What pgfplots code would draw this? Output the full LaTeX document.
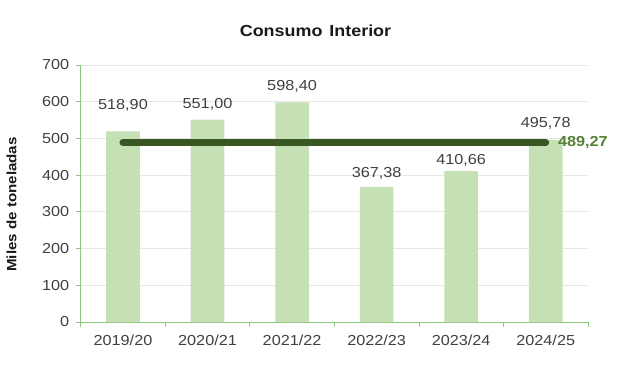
\documentclass[border=0pt]{standalone}
\usepackage{pgfplots}
\pgfplotsset{compat=1.18}
\usepackage{fontspec}
\setmainfont{Liberation Sans}[FakeStretch=1.12]
\definecolor{barfill}{HTML}{C5E0B4}
\definecolor{avgline}{HTML}{385723}
\definecolor{avglabel}{HTML}{548235}
\definecolor{axisgreen}{HTML}{8CC97E}
\definecolor{txtgray}{HTML}{404040}
\definecolor{gridgray}{HTML}{E6E6E6}
\newcommand{\tfont}{\fontsize{14.5}{17}\selectfont}
\begin{document}
\begin{tikzpicture}[x=1pt,y=1pt]
\useasboundingbox (0,0) rectangle (618,365);
\node[font=\fontsize{16}{19}\selectfont\bfseries, text=black!90] at (315.5,334) {Consumo\hspace{2pt} Interior};
\node[rotate=90, font=\fontsize{13.5}{16}\selectfont\bfseries, text=black!90] at (11.5,160.5) {Miles de toneladas};
\begin{axis}[
  at={(80.7pt,43pt)}, anchor=south west,
  scale only axis, width=507.3pt, height=257pt,
  xmin=-0.5, xmax=5.5, ymin=0, ymax=700,
  clip=false,
  axis x line*=bottom, axis y line*=left,
  axis line style={draw=axisgreen, line width=1pt, -},
  xtick={0,1,2,3,4,5},
  xticklabels={2019/20,2020/21,2021/22,2022/23,2023/24,2024/25},
  minor xtick={-0.5,0.5,1.5,2.5,3.5,4.5,5.5},
  ytick={0,100,...,700},
  tick align=outside,
  major tick length=5pt, minor tick length=4.5pt,
  xtick style={draw=none},
  ytick style={draw=axisgreen, line width=0.8pt},
  minor x tick style={draw=axisgreen, line width=0.8pt},
  ymajorgrids, grid style={draw=gridgray, line width=0.8pt},
  /pgf/number format/assume math mode=true,
  tick label style={font=\tfont, text=txtgray},
  xticklabel style={yshift=-4pt},
  yticklabel style={xshift=-3pt},
  every node near coord/.append style={anchor=center, font=\tfont, text=txtgray},
]
\addplot[ybar, bar width=33.6pt, fill=barfill, draw=none] coordinates {
  (0,518.90) (1,551.00) (2,598.40) (3,367.38) (4,410.66) (5,495.78)};
\addplot[color=avgline, line width=7pt, line cap=round] coordinates {
  (0,489.27) (5,489.27)}
  node[pos=1, anchor=west, xshift=5.5pt, font=\tfont\bfseries, text=avglabel] {489,27};
\addplot[draw=none, mark=none, nodes near coords, point meta=explicit symbolic] coordinates {
  (0,591) [518,90]
  (1,593) [551,00]
  (2,641) [598,40]
  (3,406) [367,38]
  (4,439) [410,66]
  (5,542) [495,78]};
\end{axis}
\end{tikzpicture}
\end{document}
